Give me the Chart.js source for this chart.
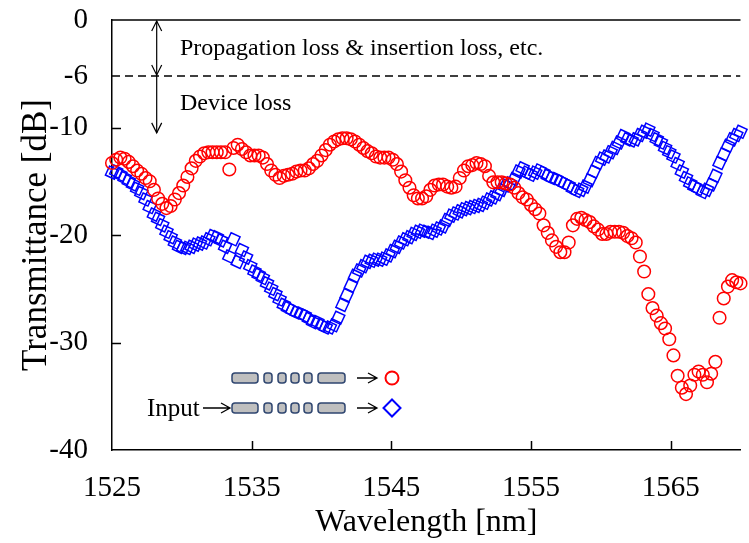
<!DOCTYPE html>
<html>
<head>
<meta charset="utf-8">
<script src="https://cdn.jsdelivr.net/npm/chart.js@4.4.0/dist/chart.umd.min.js"></script>
<style>
  html, body { margin: 0; padding: 0; background: #fff; }
</style>
</head>
<body>
<canvas id="transChart" width="749" height="543"></canvas>
<script>
// wavelength sweep: 1525 nm, one reading every 0.3 nm
const startWl = 1525;
const stepWl = 0.3;

// output port 1 (red circles), dB
const redVals = [
  -13.3,-13.0,-12.8,-12.9,-13.2,-13.6,-14.0,-14.3,-14.7,-15.0,
  -15.8,-16.6,-17.1,-17.5,-17.3,-16.7,-16.1,-15.4,-14.6,-13.8,
  -13.1,-12.7,-12.4,-12.3,-12.3,-12.3,-12.3,-12.3,-13.9,-11.9,
  -11.6,-12.0,-12.3,-12.6,-12.6,-12.6,-12.8,-13.4,-14.0,-14.4,
  -14.7,-14.5,-14.4,-14.3,-14.1,-14.0,-14.0,-13.8,-13.4,-13.1,
  -12.6,-12.1,-11.6,-11.3,-11.1,-11.0,-11.0,-11.1,-11.3,-11.6,
  -11.9,-12.2,-12.4,-12.7,-12.8,-12.8,-12.8,-13.0,-13.4,-14.1,
  -14.9,-15.6,-16.3,-16.6,-16.6,-16.4,-15.8,-15.4,-15.3,-15.3,
  -15.5,-15.6,-15.5,-14.7,-14.0,-13.6,-13.5,-13.3,-13.4,-13.6,
  -14.5,-15.1,-15.1,-15.1,-15.2,-15.3,-15.6,-16.1,-16.5,-16.7,
  -17.2,-17.6,-18.0,-19.1,-19.8,-20.5,-21.1,-21.6,-21.6,-20.7,
  -19.1,-18.5,-18.4,-18.6,-18.8,-19.2,-19.5,-19.9,-19.9,-19.7,
  -19.7,-19.7,-19.8,-20.1,-20.3,-20.7,-22.0,-23.4,-25.5,-26.8,
  -27.5,-28.2,-28.7,-29.7,-31.2,-33.1,-34.2,-34.8,-34.0,-33.0,
  -32.7,-33.0,-33.7,-32.9,-31.8,-27.7,-25.9,-24.8,-24.2,-24.4,
  -24.5
];

// output port 2 (blue diamonds), dB
const blueVals = [
  -14.2,-14.1,-14.4,-14.7,-15.0,-15.3,-15.7,-16.1,-16.7,-17.4,
  -18.1,-18.5,-19.1,-19.7,-20.2,-20.7,-21.1,-21.2,-21.2,-21.1,
  -20.9,-20.8,-20.7,-20.4,-20.1,-20.2,-20.5,-21.1,-22.0,-20.4,
  -22.5,-21.4,-22.1,-22.9,-23.4,-23.7,-24.0,-24.5,-25.0,-25.5,
  -26.0,-26.5,-26.8,-27.0,-27.2,-27.3,-27.5,-27.8,-28.1,-28.1,
  -28.4,-28.6,-28.6,-28.4,-27.7,-26.5,-25.6,-24.7,-23.8,-23.3,
  -22.9,-22.5,-22.4,-22.3,-22.3,-22.2,-21.9,-21.5,-21.1,-20.7,
  -20.4,-20.2,-19.9,-19.7,-19.6,-19.7,-19.8,-19.6,-19.4,-19.2,
  -18.6,-18.2,-18.0,-17.8,-17.6,-17.5,-17.4,-17.3,-17.2,-17.0,
  -16.7,-16.5,-16.2,-15.8,-15.4,-15.2,-14.8,-14.1,-13.8,-14.2,
  -14.4,-14.2,-14.0,-14.2,-14.5,-14.7,-14.8,-15.0,-15.2,-15.4,
  -15.7,-15.9,-15.8,-15.5,-14.9,-14.1,-13.3,-12.9,-12.7,-12.3,
  -11.9,-11.4,-10.8,-11.1,-11.2,-11.1,-10.7,-10.4,-10.2,-10.7,
  -11.1,-11.4,-11.9,-12.3,-12.7,-13.4,-14.1,-14.7,-15.2,-15.5,
  -15.7,-16.0,-15.8,-15.3,-14.5,-13.3,-12.5,-11.7,-11.1,-10.7,
  -10.4
];

const xTicks = [1525, 1535, 1545, 1555, 1565];
const yTicks = [0, -5.2, -10, -20, -30, -40];
const yTickLabels = ['0', '-6', '-10', '-20', '-30', '-40'];
const dashLevel = -5.2;   // drawn where the "-6" label sits
const xRange = [1525, 1570];

const serif = '"Liberation Serif", "Times New Roman", serif';

const wavelengths = redVals.map((v, i) => +(startWl + i * stepWl).toFixed(2));
const toPts = vals => vals.map((v, i) => ({ x: wavelengths[i], y: v }));

function vHead(ctx, x, y, dir) {
  // open arrow head, dir 1 = pointing down, -1 = up
  ctx.beginPath();
  ctx.moveTo(x - 5, y - dir * 10);
  ctx.lineTo(x, y);
  ctx.lineTo(x + 5, y - dir * 10);
  ctx.stroke();
}
function hArrow(ctx, x1, x2, y) {
  ctx.beginPath();
  ctx.moveTo(x1, y); ctx.lineTo(x2, y);
  ctx.moveTo(x2 - 9, y - 5); ctx.lineTo(x2, y); ctx.lineTo(x2 - 9, y + 5);
  ctx.stroke();
}
function waveguide(ctx, x0, yc) {
  const parts = [[0, 26], [32, 8], [46, 8], [59, 8], [72, 8], [86, 27]];
  ctx.fillStyle = '#bfbfbf';
  ctx.strokeStyle = '#2f4670';
  ctx.lineWidth = 1.5;
  parts.forEach(([dx, w]) => {
    ctx.beginPath();
    ctx.roundRect(x0 + dx, yc - 5, w, 10, 3);
    ctx.fill();
    ctx.stroke();
  });
}

const decor = {
  id: 'decor',
  afterDraw(chart) {
    const { ctx, chartArea: a, scales: { x, y } } = chart;
    ctx.save();
    ctx.strokeStyle = '#000';
    ctx.lineWidth = 1.5;
    // top frame
    ctx.beginPath(); ctx.moveTo(a.left, a.top); ctx.lineTo(a.right, a.top); ctx.stroke();
    // inward tick marks
    ctx.beginPath();
    [-10, -20, -30].forEach(v => {
      const py = Math.round(y.getPixelForValue(v)) + 0.5;
      ctx.moveTo(a.left, py); ctx.lineTo(a.left + 9, py);
    });
    xTicks.slice(1).forEach(v => {
      const px = Math.round(x.getPixelForValue(v)) + 0.5;
      ctx.moveTo(px, a.bottom); ctx.lineTo(px, a.bottom - 9);
    });
    ctx.stroke();

    // loss arrows
    ctx.lineWidth = 1.2;
    const ax = x.getPixelForValue(1528.2);
    const yTop = y.getPixelForValue(0) + 1;
    const yMid = y.getPixelForValue(dashLevel);
    const yLow = y.getPixelForValue(-10.5);
    ctx.beginPath(); ctx.moveTo(ax, yTop); ctx.lineTo(ax, yLow); ctx.stroke();
    vHead(ctx, ax, yTop, -1);
    vHead(ctx, ax, yMid - 1, 1);
    vHead(ctx, ax, yLow, 1);

    ctx.fillStyle = '#000';
    ctx.font = '24px ' + serif;
    ctx.textBaseline = 'middle';
    ctx.textAlign = 'left';
    ctx.fillText('Propagation loss & insertion loss, etc.', 180, 49);
    ctx.fillText('Device loss', 180, 104);

    // device sketch legend
    const r1 = 378, r2 = 408;
    waveguide(ctx, 232, r1);
    waveguide(ctx, 232, r2);
    ctx.strokeStyle = '#000';
    ctx.lineWidth = 1.3;
    hArrow(ctx, 357, 377, r1);
    hArrow(ctx, 357, 377, r2);
    ctx.font = '25px ' + serif;
    ctx.fillStyle = '#000';
    ctx.fillText('Input', 147, r2 + 1);
    hArrow(ctx, 203, 230, r2);

    ctx.lineWidth = 2;
    ctx.strokeStyle = '#ff0000';
    ctx.beginPath(); ctx.arc(392, r1, 6.5, 0, Math.PI * 2); ctx.stroke();
    ctx.strokeStyle = '#0000ff';
    ctx.beginPath();
    ctx.moveTo(392, r2 - 8.5); ctx.lineTo(400.5, r2); ctx.lineTo(392, r2 + 8.5); ctx.lineTo(383.5, r2);
    ctx.closePath(); ctx.stroke();
    ctx.restore();
  }
};

new Chart(document.getElementById('transChart'), {
  type: 'scatter',
  data: {
    datasets: [
      {
        label: 'Port 1',
        data: toPts(redVals),
        pointStyle: 'circle',
        pointRadius: 6.3,
        borderColor: '#ff0000',
        backgroundColor: 'rgba(0,0,0,0)',
        borderWidth: 1.5,
        clip: false
      },
      {
        label: 'Port 2',
        data: toPts(blueVals),
        pointStyle: 'rect',
        rotation: 25,
        pointRadius: 7,
        borderColor: '#0000ff',
        backgroundColor: 'rgba(0,0,0,0)',
        borderWidth: 1.5,
        clip: false
      },
      {
        type: 'line',
        label: 'level',
        data: [{ x: xRange[0], y: dashLevel }, { x: xRange[1], y: dashLevel }],
        borderColor: '#000',
        borderWidth: 1.5,
        borderDash: [8, 5],
        pointRadius: 0
      }
    ]
  },
  options: {
    responsive: false,
    animation: false,
    devicePixelRatio: 1,
    layout: { padding: { top: 20, right: 0, left: 0, bottom: 0 } },
    plugins: { legend: { display: false }, tooltip: { enabled: false } },
    scales: {
      x: {
        type: 'linear',
        min: xRange[0],
        max: xRange[1],
        afterBuildTicks: s => { s.ticks = xTicks.map(v => ({ value: v })); },
        afterFit: s => { s.height = 93; },
        grid: { display: false, drawTicks: false },
        border: { display: true, color: '#000', width: 1.5 },
        ticks: {
          color: '#000', font: { family: serif, size: 29 }, padding: 21,
          autoSkip: false, maxRotation: 0,
          callback: v => String(v)
        },
        title: { display: true, text: 'Wavelength [nm]', color: '#000', font: { family: serif, size: 32 }, padding: { top: 0, bottom: 1 } }
      },
      y: {
        min: -40,
        max: 0,
        afterBuildTicks: s => { s.ticks = yTicks.map(v => ({ value: v })); },
        afterFit: s => { s.width = 112; s.paddingTop = 0; s.paddingBottom = 0; },
        grid: { display: false, drawTicks: false },
        border: { display: true, color: '#000', width: 1.5 },
        ticks: {
          color: '#000',
          font: { family: serif, size: 29 },
          padding: 24,
          autoSkip: false,
          callback: (v, i) => yTickLabels[i]
        },
        title: { display: true, text: 'Transmittance [dB]', color: '#000', font: { family: serif, size: 35 }, padding: { top: 16, bottom: 0 } }
      }
    }
  },
  plugins: [decor]
});
</script>
</body>
</html>
